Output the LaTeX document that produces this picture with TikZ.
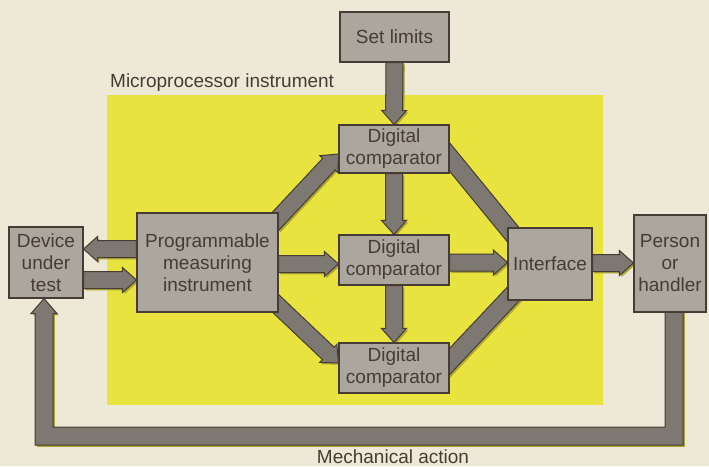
\documentclass[tikz,border=0pt]{standalone}
\usepackage{fontspec}
\setmainfont{Liberation Sans}
\usetikzlibrary{calc}
\definecolor{paper}{HTML}{EEE8D6}
\definecolor{hilite}{HTML}{E8E33E}
\definecolor{boxgray}{HTML}{ABA69E}
\definecolor{arrgray}{HTML}{7E7872}
\definecolor{ink}{HTML}{463C35}
\definecolor{shade}{HTML}{ACA535}
\pgfdeclarelayer{paperlayer}
\pgfdeclarelayer{arrowlayer}
\pgfsetlayers{paperlayer,arrowlayer,main}
% block arrow from #2 to #3
\newcommand\barrow[3][]{%
  \coordinate (bh) at ($(#3)!14pt!(#2)$);
  \path[#1] ($(#2)!8.5pt!90:(#3)$) -- ($(bh)!8.5pt!90:(#3)$) -- ($(bh)!12.5pt!90:(#3)$) -- (#3)
    -- ($(bh)!12.5pt!-90:(#3)$) -- ($(bh)!8.5pt!-90:(#3)$) -- ($(#2)!8.5pt!-90:(#3)$) -- cycle;}
% plain band from #2 to #3
\newcommand\bband[3][]{%
  \path[#1] ($(#2)!9pt!90:(#3)$) -- ($(#3)!9pt!-90:(#2)$) -- ($(#3)!9pt!90:(#2)$) -- ($(#2)!9pt!-90:(#3)$) -- cycle;}
\begin{document}
\begin{tikzpicture}[x=1pt,y=-1pt,
  box/.style={draw=ink, line width=1.1pt, fill=boxgray, text=ink, align=center, inner sep=0pt,
    font=\fontsize{19}{22}\selectfont},
  lbl/.style={text=ink, inner sep=0pt, font=\fontsize{19}{22}\selectfont},
  blk/.style={fill=arrgray, draw=ink, line width=1pt, line join=miter},
  blkshade/.style={fill=shade, transform canvas={shift={(1.8,1.8)}}}]
\useasboundingbox (0,0) rectangle (709,466);
\begin{pgfonlayer}{paperlayer}
\fill[paper] (0,0) rectangle (709,466);
\fill[hilite] (107,95) rectangle (603,405);
\end{pgfonlayer}
\node[lbl, anchor=base west] (mp) at (110,87) {Microprocessor instrument};
\node[box, minimum width=109pt, minimum height=50pt] (setl) at (394.5,37) {Set limits};
\node[box, minimum width=110pt, minimum height=48pt] (c1) at (394,149) {Digital\\comparator};
\node[box, minimum width=110pt, minimum height=50pt] (c2) at (394,260) {Digital\\comparator};
\node[box, minimum width=110pt, minimum height=50pt] (c3) at (394,368) {Digital\\comparator};
\node[box, minimum width=84pt, minimum height=72pt] (iface) at (550,264) {Interface};
\node[box, minimum width=72pt, minimum height=97pt] (person) at (670,263.5) {Person\\or\\handler};
\node[box, minimum width=74pt, minimum height=71pt] (dut) at (46,262.5) {Device\\under\\test};
\node[box, minimum width=141pt, minimum height=99pt] (pmi) at (207.5,262.5) {Programmable\\measuring\\instrument};
\node[lbl, anchor=base] (mech) at (393,463) {Mechanical action};
% connector end points
\coordinate (p1) at ($(pmi.west)+(0,-13.5)$);
\coordinate (d1) at ($(dut.east)+(0,-13.5)$);
\coordinate (d2) at ($(dut.east)+(0,17.5)$);
\coordinate (p2) at ($(pmi.west)+(0,17.5)$);
\coordinate (p3) at ($(pmi.east)+(0,1.5)$);
\coordinate (c2w) at ($(c2.west)+(0,4)$);
\coordinate (c2e) at ($(c2.east)+(0,2.5)$);
\coordinate (iw) at ($(iface.west)+(0,-1.5)$);
\coordinate (ie) at ($(iface.east)+(0,-1)$);
\coordinate (pw) at ($(person.west)+(0,-0.5)$);
\coordinate (p4) at ($(pmi.north east)+(-6,12)$);
\coordinate (c1w) at ($(c1.west)+(0,5)$);
\coordinate (p5) at ($(pmi.south east)+(-6,-12)$);
\coordinate (c3w) at ($(c3.west)+(0,-5)$);
\coordinate (c1e) at ($(c1.east)+(-9,-3)$);
\coordinate (inw) at ($(iface.north west)+(8,10)$);
\coordinate (c3e) at ($(c3.east)+(-8,2)$);
\coordinate (isw) at ($(iface.south west)+(8,-9)$);
\coordinate (mr) at ($(person.south)+(4,-6)$);
\coordinate (ml) at ($(dut.south)+(-2,0)$);
\coordinate (mbot) at (357,436);
\begin{pgfonlayer}{arrowlayer}
\foreach \st in {blkshade,blk}{
  \barrow[\st]{setl.south}{c1.north}
  \barrow[\st]{c1.south}{c2.north}
  \barrow[\st]{c2.south}{c3.north}
  \barrow[\st]{p1}{d1}
  \barrow[\st]{d2}{p2}
  \barrow[\st]{p3}{c2w}
  \barrow[\st]{c2e}{iw}
  \barrow[\st]{ie}{pw}
  \barrow[\st]{p4}{c1w}
  \barrow[\st]{p5}{c3w}
  \bband[\st]{c1e}{inw}
  \bband[\st]{c3e}{isw}
  \path[\st] ($(mr)+(-9,0)$) -- ($(mr |- mbot)+(-9,-9)$) -- ($(ml |- mbot)+(9,-9)$) -- ($(ml)+(9,15)$)
    -- ($(ml)+(13,15)$) -- (ml) -- ($(ml)+(-13,15)$) -- ($(ml)+(-9,15)$) -- ($(ml |- mbot)+(-9,9)$)
    -- ($(mr |- mbot)+(9,9)$) -- ($(mr)+(9,0)$) -- cycle;
}
\end{pgfonlayer}
\end{tikzpicture}
\end{document}
